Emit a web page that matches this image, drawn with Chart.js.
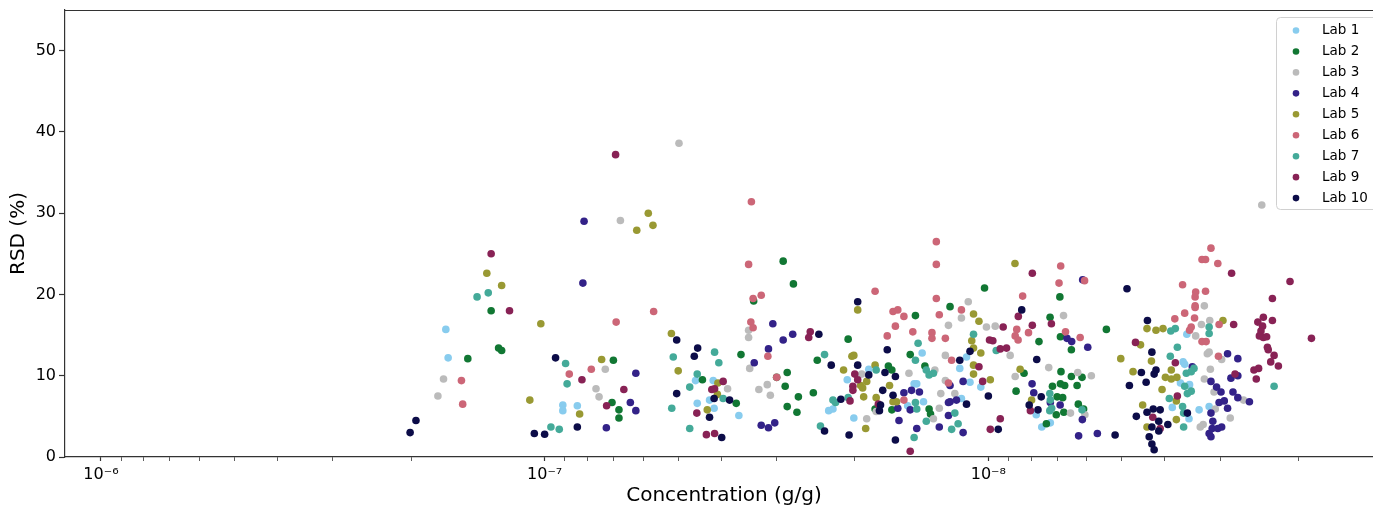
<!DOCTYPE html>
<html>
<head>
<meta charset="utf-8">
<title>RSD vs concentration</title>
<script src="https://cdn.jsdelivr.net/npm/chart.js@4.4.1/dist/chart.umd.min.js"></script>
<style>
  html, body { margin: 0; padding: 0; background: #fff; overflow: hidden; }
  #wrap { width: 1373px; height: 508px; overflow: hidden; }
  canvas { display: block; }
</style>
</head>
<body>
<div id="wrap"><canvas id="rsdChart" width="1390" height="508"></canvas></div>
<script>
// Each point: [concentration in ng/g, RSD in %]
const lab1 = [
    [167, 15.7], [165, 12.2], [91, 6.4], [91, 5.7], [84.4, 6.3],
    [45.7, 9.4], [41.7, 9.4], [45.3, 6.6], [42.5, 7.0], [41.5, 6.0], [36.5, 5.1],
    [18.6, 10.8], [20.8, 9.5], [22.9, 5.7], [22.4, 5.9], [20.1, 4.8], [14.7, 9.0], [14.5, 9.0],
    [14.1, 12.8], [14.0, 6.8], [15.2, 6.3], [11.6, 10.9], [11.2, 12.3], [11.0, 9.2], [10.4, 8.6], [11.5, 7.2],
    [7.8, 5.2], [7.58, 3.7], [7.25, 4.2],
    [3.57, 15.1], [3.64, 11.7], [3.61, 11.4], [3.69, 9.1], [3.52, 8.9], [3.35, 5.8], [3.18, 6.2],
    [3.85, 6.1], [3.53, 4.7]
];
const lab2 = [
    [132, 18.0], [127, 13.4], [125, 13.1], [149, 12.1], [70, 11.9], [70.5, 6.7], [68, 5.8], [68, 4.8],
    [29, 24.1], [27.5, 21.3], [33.8, 19.2], [36.1, 12.6], [28.4, 10.4], [30, 9.8], [28.7, 8.7],
    [26.8, 7.4], [28.4, 6.2], [27, 5.5], [44.1, 9.5], [37, 6.6],
    [24.8, 7.9], [10.2, 20.8], [14.6, 17.4], [12.2, 18.5], [20.7, 14.5], [24.3, 11.9], [16.8, 11.2],
    [16.5, 10.7], [18, 5.9], [16.5, 5.8], [15, 12.6], [13.9, 11.2], [13.6, 5.9], [13.5, 5.3],
    [6.9, 19.7], [7.26, 17.2], [6.88, 14.8], [5.42, 15.7], [7.69, 14.2], [6.5, 13.2], [8.31, 10.3],
    [6.86, 10.5], [6.5, 9.9], [6.15, 9.8], [6.88, 9.0], [6.73, 8.8], [7.17, 8.7], [6.31, 8.8],
    [8.66, 8.1], [7.0, 7.4], [6.8, 7.3], [7.03, 5.2], [6.76, 5.5], [7.4, 4.1], [6.27, 6.5], [6.1, 5.9]
];
const lab3 = [
    [169, 9.6], [174, 7.5], [73, 10.8], [76.6, 8.4], [75.4, 7.4],
    [49.8, 38.6], [67.5, 29.1], [38.7, 8.4], [34.7, 15.6], [34.7, 14.7], [34.5, 10.9],
    [32.9, 8.3], [31.5, 8.9], [31, 7.6],
    [11.1, 19.1], [11.5, 17.1], [12.3, 16.2], [10.1, 16.0], [9.65, 16.1], [19.3, 10.2], [18.8, 4.7],
    [17.9, 5.6], [15.1, 10.3], [13.2, 10.7], [12.9, 6.0], [13.3, 4.7], [12.5, 12.5], [12.5, 9.4],
    [11.9, 7.8], [12.8, 7.8], [8.93, 12.5],
    [6.77, 17.4], [8.7, 9.9], [7.31, 11.0], [6.29, 10.4], [5.86, 10.0], [6.53, 5.4], [6.06, 5.2],
    [2.42, 31.0], [3.26, 18.6], [3.31, 16.3], [3.17, 16.8], [3.41, 14.9], [3.21, 12.7], [3.18, 12.9],
    [2.98, 12.0], [3.16, 10.8], [3.26, 9.6], [3.1, 8.0], [2.66, 7.0], [3.08, 5.9], [2.85, 4.8],
    [3.33, 3.7], [3.28, 4.0]
];
const lab4 = [
    [81.5, 29.0], [82, 21.4], [72.6, 3.6],
    [62.3, 10.3], [64.1, 6.7], [62.3, 5.7], [30.6, 16.4], [29, 14.4], [27.6, 15.1], [31.3, 13.3],
    [33.7, 11.6], [32.5, 3.9], [31.3, 3.6], [30.3, 4.2],
    [16, 6.0], [15.5, 7.9], [14.9, 8.2], [14.3, 8.0], [15, 5.8], [15.9, 4.5], [14.5, 3.5], [12.9, 3.7],
    [12.2, 8.8], [11.4, 9.3], [12.2, 6.8], [12.3, 6.7], [11.8, 7.0], [12.3, 5.1], [11.4, 3.0],
    [6.13, 21.8], [6.65, 14.6], [6.49, 14.2], [5.97, 13.5], [7.97, 9.0], [7.9, 7.9], [7.25, 6.7],
    [6.89, 6.4], [6.14, 4.6], [6.26, 2.6], [5.68, 2.9],
    [2.89, 12.7], [2.74, 12.1], [3.47, 11.1], [2.74, 10.0], [2.84, 9.7], [3.15, 9.3], [3.06, 8.6],
    [2.99, 8.0], [2.81, 8.0], [2.74, 7.3], [2.58, 6.8], [3.02, 6.7], [2.94, 6.9], [2.89, 6.0],
    [3.15, 5.4], [3.12, 4.4], [3.13, 3.5], [3.18, 2.9], [3.15, 2.5], [3.04, 3.5], [2.98, 3.7]
];
const lab5 = [
    [135, 22.6], [125, 21.1], [102, 16.4], [108, 7.0], [74.4, 12.0], [83.4, 5.3],
    [58.4, 30.0], [57, 28.5], [62, 27.9], [51.8, 15.2], [50, 10.6], [40.7, 9.1], [40.8, 7.7], [43, 5.8],
    [8.71, 23.8], [19.7, 18.1], [10.8, 17.6], [10.5, 16.7], [10.9, 14.3], [10.8, 13.4], [10.4, 12.8],
    [21.2, 10.7], [20.3, 12.4], [20.1, 12.5], [18, 11.3], [18.8, 9.3], [19.4, 8.8], [19.2, 8.5],
    [19.1, 7.4], [18.9, 3.5], [17.9, 7.3], [16.7, 8.8], [16.4, 6.8], [16.1, 6.8], [10.8, 11.3],
    [10.8, 10.2], [9.9, 9.5],
    [8.48, 10.8], [7.99, 7.0], [5.03, 12.1], [4.54, 13.8], [4.39, 15.8], [4.19, 15.6], [4.72, 10.5],
    [4.29, 11.8], [4.49, 6.4], [4.39, 3.7],
    [2.96, 16.8], [4.04, 15.8], [3.87, 10.7], [3.99, 9.8], [3.87, 9.6], [3.76, 9.8], [4.06, 8.3],
    [3.77, 6.9], [3.77, 4.6]
];
const lab6 = [
    [154, 9.4], [153, 6.5], [88, 10.2], [78.5, 10.8],
    [34.2, 31.4], [34.7, 23.7], [56.8, 17.9], [69, 16.6], [33.9, 19.5], [32.5, 19.9], [34.3, 16.6],
    [33.9, 15.9], [31.4, 12.4], [30, 9.8],
    [13.1, 26.5], [13.1, 23.7], [18, 20.4], [13.1, 19.5], [16.4, 17.9], [16, 18.1], [15.5, 17.3],
    [12.9, 17.5], [11.5, 18.1], [16.2, 16.1], [16.9, 14.9], [14.8, 15.4], [13.4, 15.3], [13.4, 14.6],
    [12.5, 14.6], [15.5, 7.0], [12.1, 11.9], [12.3, 9.1],
    [6.87, 23.5], [6.93, 21.4], [6.07, 21.7], [8.37, 19.8], [8.63, 15.7], [8.7, 14.9], [8.57, 14.4],
    [8.12, 15.3], [6.7, 15.4], [6.21, 14.7],
    [3.15, 25.7], [3.30, 24.3], [3.24, 24.3], [3.04, 23.8], [3.65, 21.2], [3.41, 20.3], [3.24, 20.4],
    [3.42, 19.7], [3.42, 18.6], [3.42, 18.4], [3.61, 17.7], [3.43, 17.1], [3.8, 17.0], [3.02, 16.3],
    [3.49, 16.0], [3.52, 15.6], [3.30, 14.2], [3.23, 14.2], [3.03, 12.4]
];
const lab7 = [
    [142, 19.7], [134, 20.2], [89.7, 11.5], [89, 9.0], [96.8, 3.7], [92.7, 3.4],
    [51.3, 12.3], [41.4, 12.9], [40.5, 11.6], [45.3, 10.2], [47.1, 8.6], [39.6, 7.2], [51.7, 6.0], [47.1, 3.5],
    [23.4, 12.6], [10.8, 15.1], [14.4, 14.0], [9.6, 13.1], [17.9, 10.7], [20.7, 7.3], [22.4, 7.0],
    [22.1, 6.7], [23.9, 3.8], [14.6, 11.9], [13.8, 10.7], [13.6, 10.1], [13.3, 10.3], [14.6, 6.7],
    [14.5, 5.9], [14.7, 2.4], [13.8, 4.4], [11.9, 5.4], [11.7, 4.1], [12.1, 3.4],
    [7.27, 7.8], [7.25, 7.0], [7.27, 5.7], [7.2, 6.0], [6.15, 5.8],
    [3.18, 16.0], [3.18, 15.2], [3.79, 15.8], [3.88, 15.5], [3.75, 13.5], [3.89, 12.4], [3.44, 10.9],
    [3.49, 10.5], [3.58, 10.3], [3.61, 8.7], [3.49, 8.1], [3.56, 7.8], [3.91, 7.2], [3.65, 6.2],
    [3.63, 5.4], [3.63, 3.7], [2.27, 8.7]
];
const lab9 = [
    [132, 25.0], [120, 18.0], [82.4, 9.5], [72.5, 6.3], [66.3, 8.3], [69.2, 37.2],
    [39.6, 9.3], [42, 8.3], [41.4, 8.4], [45.4, 5.4], [43.2, 2.75], [41.4, 2.9],
    [25.2, 15.4], [25.4, 14.7], [9.26, 16.0], [9.94, 14.4], [9.77, 14.3], [9.4, 13.3], [9.1, 13.4],
    [20.0, 10.2], [19.7, 9.5], [20.2, 8.7], [20.2, 8.2], [20.5, 6.9], [17.7, 6.5], [15.0, 0.7],
    [10.5, 11.1], [10.3, 9.3], [9.9, 3.4], [9.4, 4.7],
    [7.96, 22.6], [8.56, 17.3], [7.21, 16.4], [7.96, 16.2], [8.04, 5.7], [4.66, 14.1], [4.26, 4.9],
    [2.83, 22.6], [2.09, 21.6], [2.29, 19.5], [2.40, 17.2], [2.47, 16.6], [2.41, 16.1], [2.29, 16.8],
    [2.8, 16.3], [2.43, 15.5], [2.45, 14.9], [2.40, 14.7], [2.36, 14.8], [1.87, 14.6], [2.35, 13.5],
    [2.34, 13.2], [2.27, 12.5], [2.31, 11.7], [2.22, 11.2], [3.79, 11.6], [2.46, 10.9], [2.52, 10.7],
    [2.49, 9.6], [2.78, 10.2], [3.75, 7.5], [4.1, 3.5]
];
const lab10 = [
    [195, 4.5], [201, 3.0], [94.5, 12.2], [105.5, 2.9], [100, 2.8], [84.4, 3.7],
    [50.4, 14.4], [45.2, 13.4], [46, 12.4], [50.4, 7.8], [41.5, 7.2], [38.3, 7.0], [42.5, 4.9], [39.9, 2.4],
    [19.7, 19.1], [24.1, 15.1], [16.9, 13.2], [11.0, 13.0], [22.6, 11.3], [19.7, 11.3], [18.6, 10.1],
    [17.1, 10.4], [16.2, 9.9], [21.5, 7.1], [23.4, 3.2], [20.6, 2.7], [17.5, 6.4], [17.6, 5.7],
    [17.3, 8.2], [16.4, 7.6], [16.2, 2.1], [11.6, 11.9], [10, 7.5], [11.2, 6.5], [9.5, 3.4],
    [4.87, 20.7], [8.41, 18.1], [7.78, 12.0], [7.6, 7.4], [8.09, 6.4], [7.73, 5.8], [5.18, 2.7],
    [4.38, 16.8], [4.52, 10.4], [4.28, 12.9], [4.19, 10.7], [4.23, 10.2], [4.41, 9.2], [4.81, 8.8],
    [4.64, 5.0], [4.39, 5.5], [4.25, 5.9], [4.1, 5.8], [4.28, 3.7], [4.13, 4.4], [4.34, 2.5],
    [4.28, 1.6], [4.23, 0.9], [4.13, 3.2],
    [3.56, 5.4], [3.94, 4.0]
];

const labNames = ['Lab 1', 'Lab 2', 'Lab 3', 'Lab 4', 'Lab 5', 'Lab 6', 'Lab 7', 'Lab 9', 'Lab 10'];
const labColors = ['#88ccee', '#117733', '#bbbbbb', '#332288', '#999933', '#cc6677', '#44aa99', '#882255', '#0c0c48'];
const labPoints = [lab1, lab2, lab3, lab4, lab5, lab6, lab7, lab9, lab10];

const yTicks = [0, 10, 20, 30, 40, 50];
const xDecades = [-9, -8, -7, -6];
const xMin = 1.29e-9;
const xMax = 1.205e-6;

const AXIS_COLOR = '#333333';
const SUP = { '-': '\u207b', '0': '\u2070', '1': '\u00b9', '2': '\u00b2', '3': '\u00b3',
    '4': '\u2074', '5': '\u2075', '6': '\u2076', '7': '\u2077', '8': '\u2078', '9': '\u2079' };

function powerLabel(exp) {
    return '10' + String(exp).split('').map(ch => SUP[ch]).join('');
}

// matplotlib draws later series on top; Chart.js puts dataset 0 on top,
// so the datasets go in reversed and the legend reads them back in order.
const datasets = labNames.map((name, i) => ({
    label: name,
    data: labPoints[i].map(([conc, rsd]) => ({ x: conc * 1e-9, y: rsd })),
    backgroundColor: labColors[i],
    borderWidth: 0,
    pointRadius: 3.8,
    pointHoverRadius: 3.8
})).reverse();

const topSpine = {
    id: 'topSpine',
    afterDraw(chart) {
        const { ctx, chartArea } = chart;
        ctx.save();
        ctx.strokeStyle = AXIS_COLOR;
        ctx.lineWidth = 1.2;
        ctx.beginPath();
        ctx.moveTo(chartArea.left, chartArea.top + 0.5);
        ctx.lineTo(chartArea.right, chartArea.top + 0.5);
        ctx.stroke();
        ctx.restore();
    }
};

const labLegend = {
    id: 'labLegend',
    afterDraw(chart) {
        const { ctx, chartArea } = chart;
        const left = chartArea.right - 107;
        const top = chartArea.top + 7;
        const w = 112, h = 192, r = 4;
        ctx.save();
        ctx.beginPath();
        ctx.roundRect(left + 0.5, top + 0.5, w, h, r);
        ctx.fillStyle = 'rgba(255,255,255,0.8)';
        ctx.fill();
        ctx.strokeStyle = '#d0d0d0';
        ctx.lineWidth = 1;
        ctx.stroke();
        ctx.font = '13.5px "DejaVu Sans"';
        ctx.textBaseline = 'middle';
        labNames.forEach((name, i) => {
            const y = top + 13.5 + i * 20.95;
            ctx.fillStyle = labColors[i];
            ctx.beginPath();
            ctx.arc(left + 20, y, 3.3, 0, Math.PI * 2);
            ctx.fill();
            ctx.fillStyle = '#000';
            ctx.fillText(name, left + 46, y);
        });
        ctx.restore();
    }
};

Chart.defaults.font.family = '"DejaVu Sans", sans-serif';
Chart.defaults.color = '#000';

new Chart(document.getElementById('rsdChart'), {
    type: 'scatter',
    data: { datasets },
    options: {
        responsive: false,
        animation: false,
        devicePixelRatio: 1,
        layout: { padding: { left: 0, right: 7, top: 10, bottom: 0 } },
        plugins: {
            legend: { display: false },
            tooltip: { enabled: false }
        },
        scales: {
            x: {
                type: 'logarithmic',
                reverse: true,
                min: xMin,
                max: xMax,
                afterBuildTicks(scale) {
                    const ticks = [];
                    xDecades.forEach(exp => {
                        for (let m = 1; m <= 9; m++) {
                            const value = m * Math.pow(10, exp);
                            if (value >= xMin && value <= xMax) {
                                ticks.push({ value, major: m === 1, exp });
                            }
                        }
                    });
                    scale.ticks = ticks.reverse();
                },
                afterFit(scale) {
                    scale.height = 51;
                    scale.paddingLeft = 0;
                    scale.paddingRight = 0;
                },
                border: { display: true, color: AXIS_COLOR, width: 1.2 },
                grid: {
                    drawOnChartArea: false,
                    tickLength: 4,
                    tickColor: AXIS_COLOR,
                    tickWidth: ctx => (ctx.tick && ctx.tick.major ? 1.2 : 0.8)
                },
                ticks: {
                    autoSkip: false,
                    maxRotation: 0,
                    padding: 4,
                    font: { size: 16 },
                    callback: (value, index, ticks) => (ticks[index].major ? powerLabel(ticks[index].exp) : '')
                },
                title: {
                    display: true,
                    text: 'Concentration (g/g)',
                    font: { size: 20 },
                    padding: { top: 0, bottom: 0 }
                }
            },
            y: {
                min: 0,
                max: 55,
                afterBuildTicks(scale) {
                    scale.ticks = yTicks.map(value => ({ value }));
                },
                afterFit(scale) {
                    scale.width = 65;
                    scale.paddingTop = 0;
                    scale.paddingBottom = 0;
                },
                border: { display: true, color: AXIS_COLOR, width: 1.2 },
                grid: {
                    drawOnChartArea: false,
                    tickLength: 6,
                    tickColor: AXIS_COLOR,
                    tickWidth: 1.2
                },
                ticks: {
                    padding: 3,
                    font: { size: 16 }
                },
                title: {
                    display: true,
                    text: 'RSD (%)',
                    font: { size: 20 },
                    padding: { top: 7, bottom: 0 }
                }
            }
        }
    },
    plugins: [topSpine, labLegend]
});
</script>
</body>
</html>
